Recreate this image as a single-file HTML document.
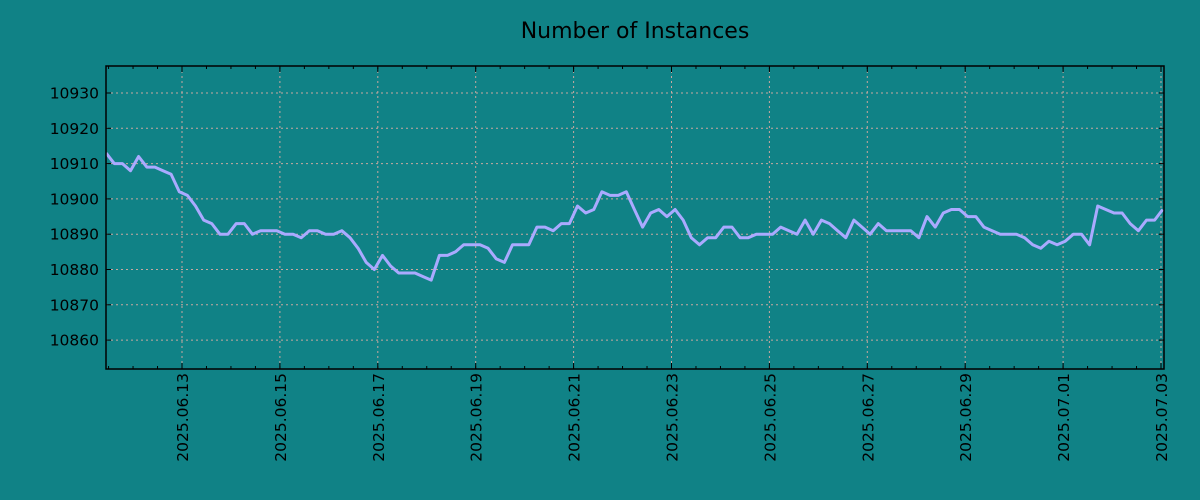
<!DOCTYPE html>
<html><head><meta charset="utf-8"><style>
html,body{margin:0;padding:0;background:#108286;}
svg{display:block;font-family:"DejaVu Sans","Liberation Sans",sans-serif;}
</style></head><body>
<svg id="chart" width="1200" height="500" viewBox="0 0 1200 500" xmlns="http://www.w3.org/2000/svg">
<defs><clipPath id="plotclip"><rect x="106" y="66" width="1058" height="303"/></clipPath></defs>
<rect x="0" y="0" width="1200" height="500" fill="#108286"/>
<text x="635" y="38" font-size="22" text-anchor="middle" fill="#000">Number of Instances</text>
<g id="grid"></g>
<g id="series" clip-path="url(#plotclip)"></g>
<g id="axes"></g>
</svg>
<script>
const values = [10913,10910,10910,10908,10912,10909,10909,10908,10907,10902,10901,10898,10894,10893,10890,10890,10893,10893,10890,10891,10891,10891,10890,10890,10889,10891,10891,10890,10890,10891,10889,10886,10882,10880,10884,10881,10879,10879,10879,10878,10877,10884,10884,10885,10887,10887,10887,10886,10883,10882,10887,10887,10887,10892,10892,10891,10893,10893,10898,10896,10897,10902,10901,10901,10902,10897,10892,10896,10897,10895,10897,10894,10889,10887,10889,10889,10892,10892,10889,10889,10890,10890,10890,10892,10891,10890,10894,10890,10894,10893,10891,10889,10894,10892,10890,10893,10891,10891,10891,10891,10889,10895,10892,10896,10897,10897,10895,10895,10892,10891,10890,10890,10890,10889,10887,10886,10888,10887,10888,10890,10890,10887,10898,10897,10896,10896,10893,10891,10894,10894,10897];
const startDay = -1.55;   // days relative to 2025.06.13
const stepDays = 3.985/24;
const yTicks = [10860,10870,10880,10890,10900,10910,10920,10930];
const xTickDays = [0,2,4,6,8,10,12,14,16,18,20];
const xTickLabels = ["2025.06.13","2025.06.15","2025.06.17","2025.06.19","2025.06.21","2025.06.23","2025.06.25","2025.06.27","2025.06.29","2025.07.01","2025.07.03"];

const NS="http://www.w3.org/2000/svg";
const L=106,R=1164,T=66,B=369;
const xScale=d=>182+d*48.95;
const yScale=v=>93+(10930-v)*3.53;
function mk(tag,attrs,parent){const e=document.createElementNS(NS,tag);for(const k in attrs)e.setAttribute(k,attrs[k]);parent.appendChild(e);return e;}
const grid=document.getElementById('grid'),axes=document.getElementById('axes'),series=document.getElementById('series');

yTicks.forEach(v=>{
  const y=yScale(v);
  const g=mk('line',{x1:L,x2:R,y1:y,y2:y,stroke:'#c8a8a0','stroke-width':1,'stroke-dasharray':'2,3'},grid);
  
  
  mk('line',{x1:L,x2:L+5,y1:y,y2:y,stroke:'#000'},axes);
  mk('line',{x1:R-5,x2:R,y1:y,y2:y,stroke:'#000'},axes);
  const t=mk('text',{x:L-7,y:y+5.5,'font-size':15.5,'text-anchor':'end',fill:'#000'},axes);
  t.textContent=v;
  
  
});
for(let d=-1.5;d<=20;d+=0.5){
  const x=xScale(d); if(x<L||x>R)continue;
  mk('line',{x1:x,x2:x,y1:B,y2:B-3,stroke:'#000'},axes);
  mk('line',{x1:x,x2:x,y1:T,y2:T+3,stroke:'#000'},axes);
}
xTickDays.forEach((d,i)=>{
  const x=xScale(d);
  const g=mk('line',{x1:x,x2:x,y1:T,y2:B,stroke:'#c8a8a0','stroke-width':1,'stroke-dasharray':'2,3'},grid);
  
  
  mk('line',{x1:x,x2:x,y1:B,y2:B-6,stroke:'#000'},axes);
  mk('line',{x1:x,x2:x,y1:T,y2:T+6,stroke:'#000'},axes);
  const t=mk('text',{x:0,y:0,'font-size':15.5,'text-anchor':'end',fill:'#000',transform:`translate(${x+6},${B+4}) rotate(-90)`},axes);
  t.textContent=xTickLabels[i];
  
  
});
const frame=mk('rect',{x:L,y:T,width:R-L,height:B-T,fill:'none',stroke:'#000','stroke-width':1.5},axes);


const pts=values.map((v,i)=>xScale(startDay+i*stepDays).toFixed(1)+','+yScale(v).toFixed(1)).join(' ');
const line=mk('polyline',{points:pts,fill:'none',stroke:'#aaaaff','stroke-width':3,'stroke-linejoin':'round'},series);


</script>
</body></html>
